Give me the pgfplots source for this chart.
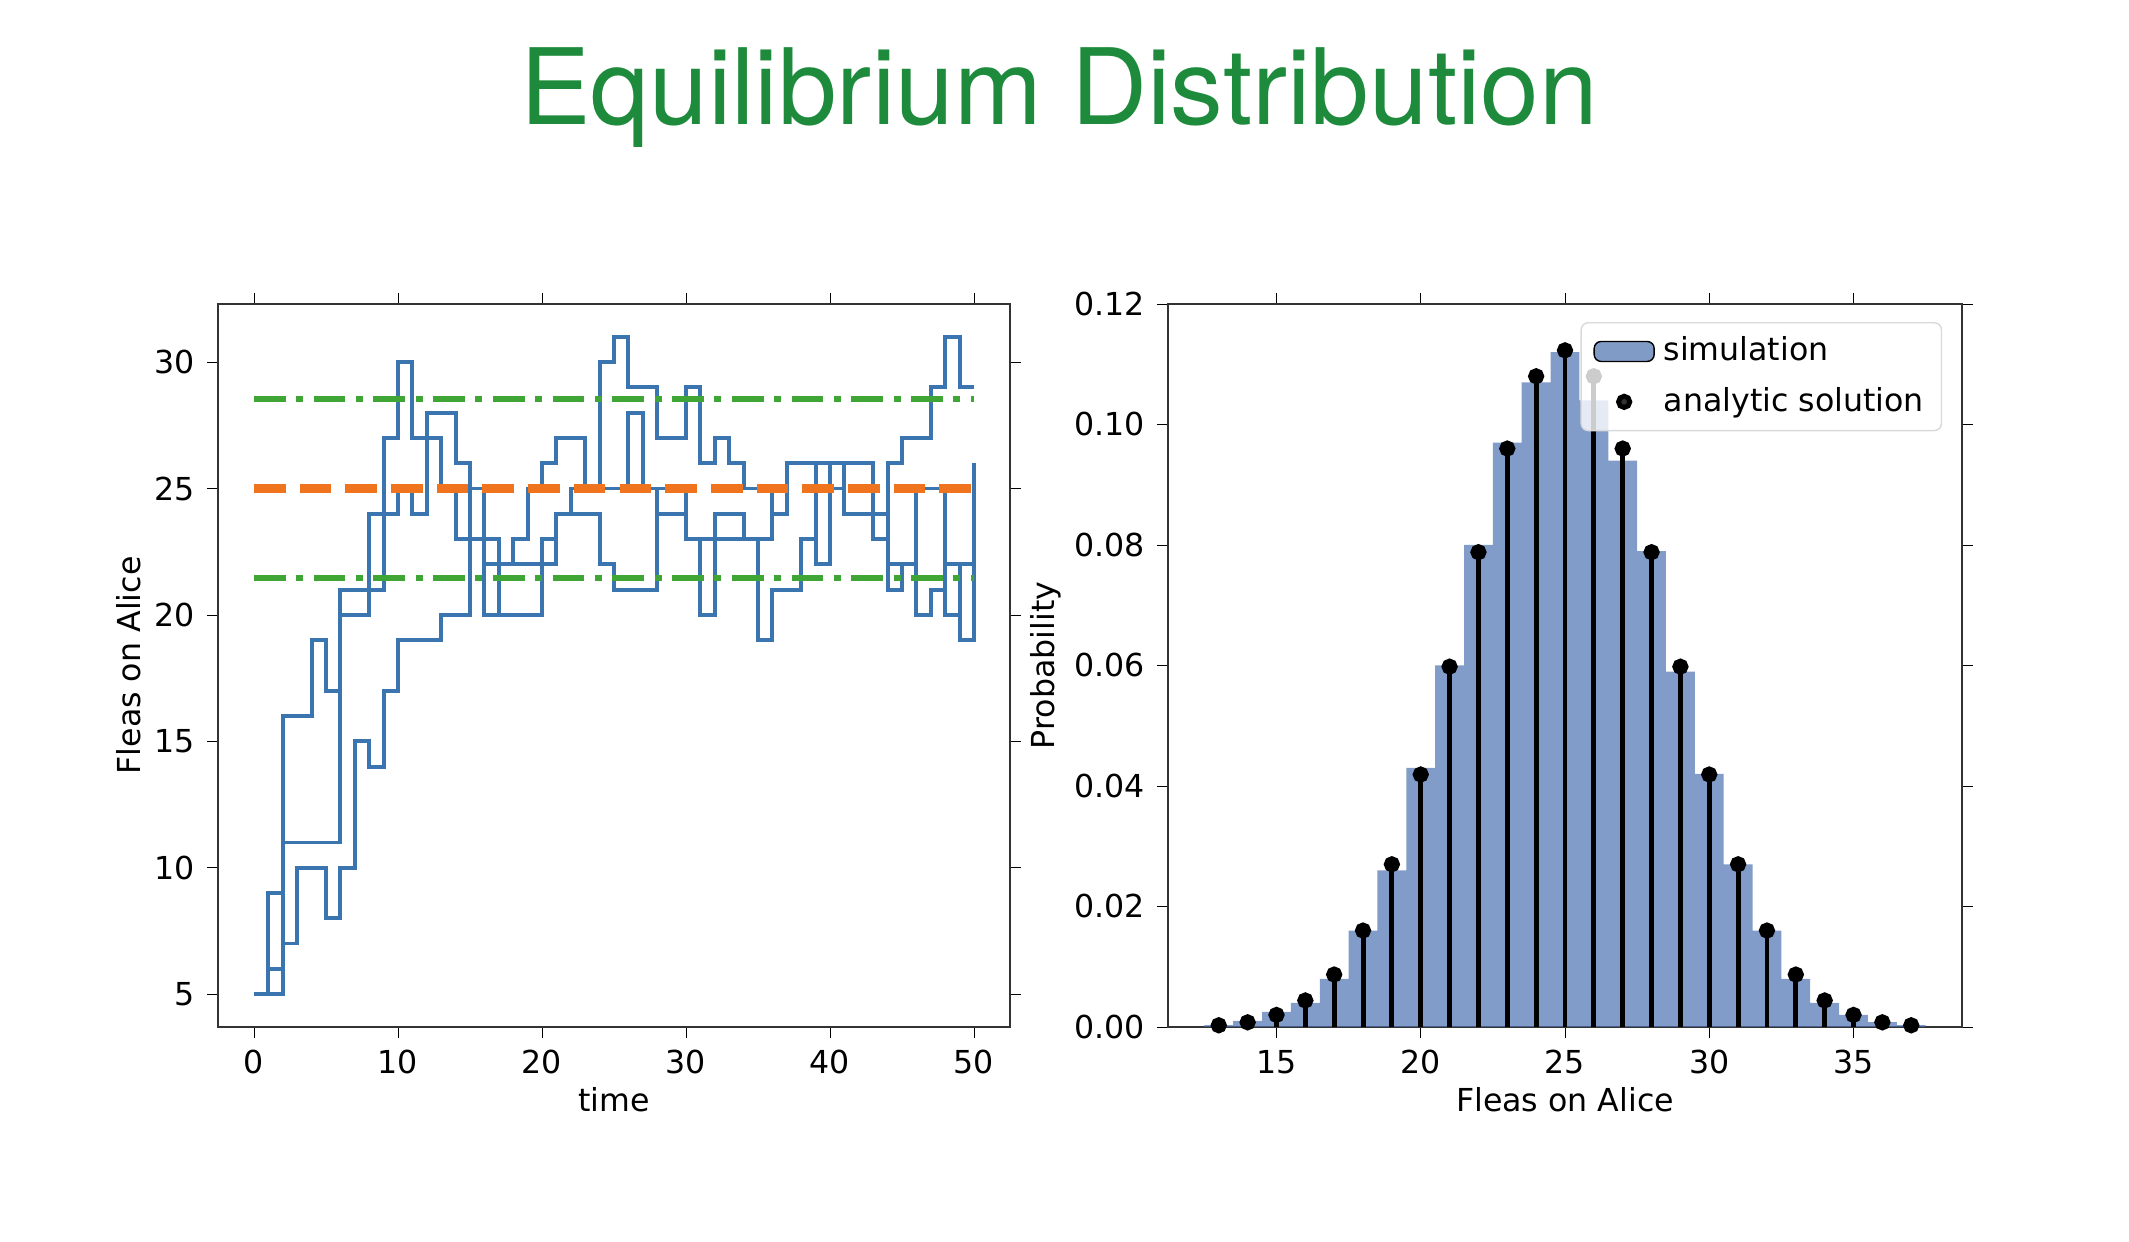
\documentclass[border=0pt]{standalone}
\usepackage{pgfplots}
\pgfplotsset{compat=1.18}
\usepackage{fontspec}
\setmainfont{DejaVu Sans}
\newfontfamily\titlefont{TeX Gyre Heros}
\definecolor{mblue}{HTML}{3A75B0}
\definecolor{morange}{HTML}{F0731E}
\definecolor{mgreen}{HTML}{3FA535}
\definecolor{tgreen}{HTML}{1E8A3C}
\definecolor{hblue}{HTML}{4C72B0}
\begin{document}
\begin{tikzpicture}
\path (0,0) rectangle (21.29,12.42);
\node[font=\titlefont\fontsize{30}{36}\selectfont, text=tgreen] at (10.59,11.44) {Equilibrium Distribution};
\pgfplotsset{every axis/.append style={scale only axis, font=\fontsize{9}{11}\selectfont,
  /pgf/number format/assume math mode=true, tick align=outside, major tick length=3pt,
  tick style={black}, axis line style={black!80}}}
\begin{axis}[at={(2.18cm,2.15cm)}, anchor=south west, width=7.92cm, height=7.23cm,
  xmin=-2.5, xmax=52.5, ymin=3.7, ymax=32.3, xtick={0,10,...,50}, ytick={5,10,...,30},
  xlabel={time}, ylabel={Fleas on Alice}, xlabel style={yshift=3pt}, ylabel style={yshift=-3pt}]
\addplot[const plot, mblue, line width=1.1pt] coordinates {
(0,5)(1,9)(2,16)(3,16)(4,19)(5,17)(6,21)(7,21)(8,24)(9,27)(10,30)(11,27)(12,27)(13,25)(14,23)(15,25)(16,22)(17,22)(18,23)(19,25)(20,26)(21,27)(22,27)(23,25)(24,30)(25,31)(26,29)(27,29)(28,27)(29,27)(30,29)(31,26)(32,27)(33,26)(34,25)(35,25)(36,24)(37,26)(38,26)(39,25)(40,25)(41,24)(42,24)(43,24)(44,26)(45,27)(46,27)(47,29)(48,31)(49,29)(50,29)};
\addplot[const plot, mblue, line width=1.1pt] coordinates {
(0,5)(1,6)(2,11)(3,11)(4,11)(5,11)(6,20)(7,20)(8,21)(9,24)(10,25)(11,24)(12,28)(13,28)(14,26)(15,25)(16,20)(17,22)(18,22)(19,22)(20,23)(21,24)(22,25)(23,25)(24,25)(25,25)(26,28)(27,25)(28,24)(29,24)(30,23)(31,23)(32,24)(33,24)(34,23)(35,23)(36,24)(37,26)(38,26)(39,22)(40,26)(41,26)(42,26)(43,23)(44,21)(45,22)(46,25)(47,25)(48,20)(49,22)(50,26)};
\addplot[const plot, mblue, line width=1.1pt] coordinates {
(0,5)(1,5)(2,7)(3,10)(4,10)(5,8)(6,10)(7,15)(8,14)(9,17)(10,19)(11,19)(12,19)(13,20)(14,20)(15,23)(16,23)(17,20)(18,20)(19,20)(20,22)(21,24)(22,24)(23,24)(24,22)(25,21)(26,21)(27,21)(28,25)(29,25)(30,23)(31,20)(32,23)(33,23)(34,23)(35,19)(36,21)(37,21)(38,23)(39,26)(40,26)(41,24)(42,24)(43,24)(44,22)(45,22)(46,20)(47,21)(48,22)(49,19)(50,22)};
\addplot[mgreen, line width=1.6pt, dash pattern=on 9pt off 3pt on 2pt off 3pt] coordinates {(0,28.54)(50,28.54)};
\addplot[mgreen, line width=1.6pt, dash pattern=on 9pt off 3pt on 2pt off 3pt] coordinates {(0,21.46)(50,21.46)};
\addplot[morange, line width=2.4pt, dash pattern=on 9pt off 4pt] coordinates {(0,25)(50,25)};
\end{axis}
\begin{axis}[at={(11.68cm,2.15cm)}, anchor=south west, width=7.94cm, height=7.23cm,
  xmin=11.24, xmax=38.76, ymin=0, ymax=0.12, xtick={15,20,...,35}, ytick={0,0.02,...,0.12},
  yticklabel style={/pgf/number format/.cd, fixed, fixed zerofill, precision=2},
  scaled y ticks=false,
  xlabel={Fleas on Alice}, ylabel={Probability}, xlabel style={yshift=3pt}, ylabel style={yshift=-3pt},
  legend style={at={(0.975,0.975)}, anchor=north east, draw=black!15, fill=white, fill opacity=0.8, text opacity=1, rounded corners=2pt, font=\fontsize{9}{11}\selectfont, row sep=2pt},
  legend cell align=left]
\addplot[ybar interval, fill=hblue, fill opacity=0.7, draw=none, area legend] coordinates {
(12.5,0.0003)(13.5,0.001)(14.5,0.0025)(15.5,0.004)(16.5,0.008)(17.5,0.016)(18.5,0.026)(19.5,0.043)(20.5,0.060)(21.5,0.080)(22.5,0.097)(23.5,0.107)(24.5,0.112)(25.5,0.104)(26.5,0.094)(27.5,0.079)(28.5,0.059)(29.5,0.042)(30.5,0.027)(31.5,0.016)(32.5,0.008)(33.5,0.004)(34.5,0.002)(35.5,0.0008)(36.5,0.0003)(37.5,0.0003)};
\addlegendentry{simulation}
\addplot[ycomb, black, line width=1.4pt, mark=*, mark size=1.6pt] coordinates {
(13,0.00028)(14,0.00077)(15,0.0020)(16,0.0044)(17,0.0087)(18,0.0160)(19,0.0270)(20,0.0419)(21,0.0598)(22,0.0788)(23,0.0960)(24,0.1080)(25,0.1123)(26,0.1080)(27,0.0960)(28,0.0788)(29,0.0598)(30,0.0419)(31,0.0270)(32,0.0160)(33,0.0087)(34,0.0044)(35,0.0020)(36,0.00077)(37,0.00028)};
\addlegendentry{analytic solution}
\end{axis}
\end{tikzpicture}
\end{document}
